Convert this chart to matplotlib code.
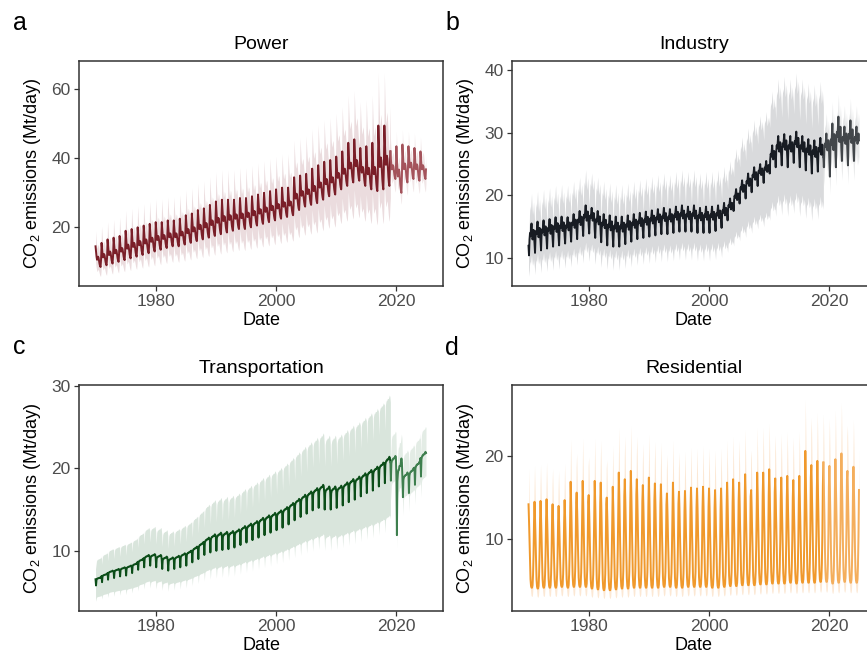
import numpy as np
import matplotlib
matplotlib.use("Agg")
import matplotlib.pyplot as plt

plt.rcParams["font.family"] = ["Liberation Sans", "DejaVu Sans"]

years = list(range(1970, 2025))
split_year = 2019

# annual high / low of the monthly series (Mt/day)
power_peak = [14.5, 15.5, 16.5, 17.0, 17.5, 19.0, 19.5, 20.0, 20.5, 21.0,
              21.5, 21.5, 22.0, 22.0, 22.5, 23.5, 24.0, 25.0, 25.5, 26.5,
              27.5, 28.0, 28.0, 28.0, 28.5, 28.5, 29.0, 29.5, 30.0, 30.5,
              31.0, 31.5, 31.5, 34.5, 35.0, 35.5, 37.0, 38.0, 39.0, 39.5,
              40.5, 42.0, 44.5, 45.5, 43.0, 43.5, 44.5, 49.5, 49.5, 42.0,
              43.5, 44.0, 43.5, 43.0, 42.0]
power_low = [8.5, 9.0, 9.5, 10.0, 10.5, 11.0, 11.5, 12.0, 12.5, 13.0,
             13.5, 14.0, 14.5, 14.5, 15.0, 15.5, 16.0, 16.5, 17.0, 17.5,
             18.0, 18.5, 19.0, 19.5, 19.5, 20.0, 20.5, 21.0, 21.5, 22.0,
             22.5, 23.0, 23.5, 25.0, 26.0, 26.5, 27.0, 28.0, 29.0, 29.5,
             31.0, 32.0, 33.0, 33.5, 32.0, 31.0, 30.5, 31.0, 32.0, 34.0,
             30.0, 33.0, 34.0, 33.5, 34.0]

industry_peak = [15.5, 15.8, 16.0, 16.2, 16.5, 16.6, 16.5, 17.0, 17.5, 18.4,
                 18.0, 17.5, 17.0, 16.8, 16.6, 16.6, 16.8, 17.0, 17.2, 17.4,
                 17.6, 17.8, 18.0, 17.8, 18.2, 18.4, 18.2, 18.4, 18.0, 18.2,
                 18.2, 18.4, 18.8, 19.5, 21.0, 22.4, 23.5, 24.5, 25.0, 25.5,
                 28.0, 29.5, 29.8, 29.5, 30.2, 29.5, 29.0, 28.8, 29.2, 29.9,
                 31.5, 32.6, 31.0, 32.0, 31.0]
industry_low = [10.4, 10.8, 11.2, 11.5, 11.8, 12.0, 12.3, 12.6, 13.0, 13.5,
                13.9, 13.2, 12.5, 12.0, 11.8, 11.8, 12.2, 12.6, 13.0, 13.2,
                13.4, 13.6, 13.8, 13.8, 14.0, 14.2, 14.2, 14.2, 14.0, 14.0,
                14.0, 14.3, 14.8, 16.0, 17.5, 18.7, 19.5, 20.5, 21.5, 22.0,
                23.5, 24.5, 24.8, 24.5, 25.2, 24.5, 24.0, 23.5, 23.8, 24.5,
                23.0, 24.5, 25.5, 24.8, 25.5]

transport_peak = [6.8, 7.2, 7.6, 7.8, 8.0, 8.2, 8.5, 9.0, 9.5, 9.6,
                  9.5, 9.3, 9.2, 9.4, 9.7, 10.0, 10.5, 11.0, 11.6, 12.0,
                  12.2, 12.3, 12.4, 12.6, 13.0, 13.3, 13.6, 14.0, 14.3, 14.6,
                  14.9, 15.3, 15.8, 16.3, 16.8, 17.2, 17.6, 18.0, 17.8, 17.8,
                  17.9, 18.3, 18.7, 19.0, 19.4, 19.8, 20.2, 20.7, 21.4, 21.5,
                  21.2, 19.5, 20.0, 20.8, 22.0]
transport_low = [5.8, 6.2, 6.5, 6.7, 6.9, 7.0, 7.3, 7.7, 8.0, 8.2,
                 8.0, 7.8, 7.6, 7.8, 8.0, 8.2, 8.6, 9.0, 9.5, 9.8,
                 10.0, 10.1, 10.2, 10.4, 10.7, 11.0, 11.3, 11.6, 11.9, 12.2,
                 12.5, 12.8, 13.2, 13.7, 14.1, 14.5, 14.9, 15.2, 15.0, 15.0,
                 15.2, 15.5, 15.9, 16.2, 16.6, 17.0, 17.3, 17.8, 18.2, 18.5,
                 11.9, 16.5, 17.0, 18.0, 19.0]

residential_peak = [14.2, 14.5, 14.6, 14.8, 14.2, 14.0, 14.7, 16.9, 15.6, 17.0,
                    15.3, 17.0, 16.8, 15.0, 16.3, 18.0, 17.2, 18.2, 17.2, 16.5,
                    17.4, 16.7, 16.6, 15.5, 16.8, 15.7, 15.8, 16.2, 16.1, 16.3,
                    16.1, 15.9, 16.1, 16.8, 17.2, 16.8, 17.8, 15.9, 18.0, 18.0,
                    18.4, 17.3, 17.4, 17.6, 17.1, 17.6, 20.6, 18.9, 19.4, 19.2,
                    18.8, 19.6, 20.3, 18.2, 18.7]
residential_low = [4.2, 4.1, 4.2, 4.2, 4.2, 4.3, 4.2, 4.3, 4.3, 4.3,
                   4.1, 4.0, 3.9, 3.9, 4.0, 4.1, 4.1, 4.2, 4.2, 4.2,
                   4.2, 4.2, 4.3, 4.3, 4.2, 4.2, 4.3, 4.3, 4.3, 4.3,
                   4.2, 4.2, 4.3, 4.4, 4.4, 4.5, 4.5, 4.5, 4.6, 4.6,
                   4.7, 4.7, 4.7, 4.8, 4.7, 4.8, 4.8, 4.8, 4.9, 4.9,
                   4.7, 4.8, 4.9, 4.8, 4.8]

# month-by-month shape of the seasonal cycle (0 = low, 1 = high), Jan..Dec
power_shape = [1.0, 0.72, 0.5, 0.35, 0.4, 0.5, 0.45, 0.3, 0.15, 0.05, 0.0, 0.35]
industry_shape = [0.3, 0.0, 0.5, 0.7, 0.6, 0.8, 1.0, 0.7, 0.5, 0.6, 0.8, 0.6]
transport_shape = [0.75, 0.0, 0.7, 0.8, 0.85, 0.85, 0.9, 0.9, 0.9, 0.95, 1.0, 0.95]
residential_shape = [1.0, 0.8, 0.55, 0.3, 0.1, 0.02, 0.0, 0.0, 0.03, 0.15, 0.4, 0.8]

# relative spread of the uncertainty band (down, up) before / after 2019
power_band = [(0.32, 0.31), (0.11, 0.10)]
industry_band = [(0.32, 0.31), (0.12, 0.11)]
transport_band = [(0.33, 0.35), (0.13, 0.14)]
residential_band = [(0.25, 0.30), (0.25, 0.30)]

panels = [
    ("a", "Power", power_peak, power_low, power_shape, power_band,
     ["#7A1E28", "#A4535B"], ["#EBDCDE", "#F1E6E7"], [20, 40, 60], (3.0, 68.2)),
    ("b", "Industry", industry_peak, industry_low, industry_shape, industry_band,
     ["#181C23", "#42464A"], ["#D9DADC", "#E5E6E7"], [10, 20, 30, 40], (5.5, 41.5)),
    ("c", "Transportation", transport_peak, transport_low, transport_shape, transport_band,
     ["#0B4D18", "#3E7F4E"], ["#D9E5DC", "#E3ECE5"], [10, 20, 30], (2.7, 30.1)),
    ("d", "Residential", residential_peak, residential_low, residential_shape, residential_band,
     ["#F0992C", "#F4AE5C"], ["#FCE8D4", "#FCE8D4"], [10, 20], (1.4, 28.5)),
]

positions = [
    [0.0911, 0.5627, 0.4199, 0.3440],
    [0.5905, 0.5627, 0.4199, 0.3440],
    [0.0911, 0.0657, 0.4199, 0.3456],
    [0.5905, 0.0657, 0.4199, 0.3456],
]
letter_xy = [(13, 30), (445, 30), (13, 354), (445, 355)]

fig = plt.figure(figsize=(8.67, 6.54), dpi=100)

for (letter, title, peak, low, shape, band, lcol, bcol, yt, ylim), pos, lxy in zip(
        panels, positions, letter_xy):
    ax = fig.add_axes(pos)

    x = []
    y = []
    for yr, p, t in zip(years, peak, low):
        for m, w in enumerate(shape):
            x.append(yr + m / 12)
            y.append(t + w * (p - t))
    x = np.array(x)
    y = np.array(y)

    cut = (split_year - years[0]) * 12
    segs = [(slice(0, cut + 1), 0), (slice(cut, len(x)), 1)]
    for sl, k in segs:
        dn, up = band[k]
        ax.fill_between(x[sl], y[sl] * (1 - dn), y[sl] * (1 + up),
                        color=bcol[k], lw=0, zorder=1)
    for sl, k in segs:
        ax.plot(x[sl], y[sl], color=lcol[k], lw=1.4, zorder=3)

    ax.set_xlim(1967.25, 2027.75)
    ax.set_ylim(*ylim)
    ax.set_xticks([1980, 2000, 2020])
    ax.set_yticks(yt)
    ax.tick_params(direction="out", length=3.5, width=0.9, color="#333333",
                   labelcolor="#4D4D4D", labelsize=12.5, pad=2.5)
    for s in ax.spines.values():
        s.set_color("#333333")
        s.set_linewidth(1.1)

    ax.set_title(title, fontsize=14, pad=9)
    ax.set_xlabel("Date", fontsize=13)
    ax.set_ylabel(r"CO$_\mathregular{2}$ emissions (Mt/day)", fontsize=13)
    ax.xaxis.set_label_coords(0.5, -0.115)
    ax.yaxis.set_label_coords(-0.1, 0.5)

    fig.text(lxy[0] / 867, 1 - lxy[1] / 654, letter, fontsize=18,
             va="baseline", ha="left")

fig.savefig("out.png", dpi=100)
